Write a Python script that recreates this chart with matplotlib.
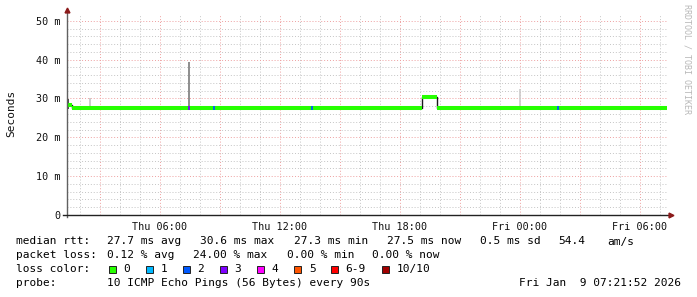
"""
SmokePing style latency graph (median rtt + smoke + loss colours) redrawn with matplotlib.
"""

import numpy as np
import matplotlib
matplotlib.use("Agg")
import matplotlib.pyplot as plt
import matplotlib.dates as mdates
from matplotlib.ticker import FuncFormatter, MultipleLocator

# ---- data -----------------------------------------------------------------
START = np.datetime64("2026-01-08T01:21:52")
BIN_MIN = 15  # one median value per 15 minutes, 30 hours

median_ms = [
    28.3, 27.5, 27.5, 27.5, 27.5, 27.55, 27.5, 27.5, 27.45, 27.5, 27.5, 27.55,
    27.5, 27.5, 27.5, 27.45, 27.5, 27.55, 27.5, 27.5, 27.5, 27.5, 27.45, 27.5,
    27.5, 27.55, 27.5, 27.5, 27.5, 27.5, 27.55, 27.5, 27.5, 27.45, 27.5, 27.5,
    27.5, 27.5, 27.55, 27.5, 27.5, 27.5, 27.5, 27.45, 27.5, 27.5, 27.5, 27.55,
    27.5, 27.5, 27.5, 27.5, 27.45, 27.5, 27.5, 27.5, 27.55, 27.5, 27.5, 27.5,
    27.5, 27.45, 27.5, 27.5, 27.5, 27.5, 27.55, 27.5, 27.5, 27.5, 27.5, 30.4,
    30.5, 30.4, 27.5, 27.5, 27.45, 27.5, 27.5, 27.5, 27.55, 27.5, 27.5, 27.5,
    27.5, 27.5, 27.45, 27.5, 27.5, 27.55, 27.5, 27.5, 27.5, 27.5, 27.5, 27.45,
    27.5, 27.5, 27.55, 27.5, 27.5, 27.5, 27.5, 27.45, 27.5, 27.5, 27.55, 27.5,
    27.5, 27.5, 27.5, 27.5, 27.45, 27.5, 27.5, 27.55, 27.5, 27.5, 27.5, 27.5,
]

# smoke spikes (hours after start, low / high in ms, shade)
smoke_hours = [0.05, 1.15, 6.1, 22.65]
smoke_low = [27.2, 27.6, 27.6, 27.6]
smoke_high = [29.8, 30.2, 39.4, 32.4]
smoke_shade = ["#2a2a2a", "#c4c4c4", "#7a7a7a", "#cccccc"]

# short loss marks on the median line (hours after start, lost pings)
loss_hours = [6.1, 7.35, 12.25, 24.55]
loss_counts = [3, 2, 2, 2]

loss_labels = ["0", "1", "2", "3", "4", "5", "6-9", "10/10"]
loss_colors = ["#26ff00", "#00b8ff", "#0059ff", "#7e00ff", "#ff00ff",
               "#ff5500", "#ff0000", "#a10000"]

rtt_items = ["27.7 ms avg", "30.6 ms max", "27.3 ms min", "27.5 ms now",
             "0.5 ms sd", "54.4", "am/s"]
loss_items = ["0.12 % avg", "24.00 % max", "0.00 % min", "0.00 % now"]
probe_text = "10 ICMP Echo Pings (56 Bytes) every 90s"
stamp_text = "Fri Jan  9 07:21:52 2026"

# ---- drawing ----------------------------------------------------------------
W, H = 697, 297
MONO = "DejaVu Sans Mono"
AXIS_C = "#606060"
ARROW_C = "#8b1a1a"


def px(x, y):
    """pixel (from top-left) -> figure fraction"""
    return x / W, 1 - y / H


fig = plt.figure(figsize=(W / 100, H / 100), dpi=100)
fig.patch.set_facecolor("white")
ax = fig.add_axes([67 / W, (H - 215) / H, 600 / W, 200 / H])

edges = START + np.arange(len(median_ms) + 1) * np.timedelta64(BIN_MIN, "m")
t = mdates.date2num(edges.astype("datetime64[s]").astype(object))
med = np.array(median_ms) / 1000.0


def hours_to_num(h):
    return t[0] + np.array(h) / 24.0


# smoke
ax.vlines(hours_to_num(smoke_hours), np.array(smoke_low) / 1000,
          np.array(smoke_high) / 1000, colors=smoke_shade, lw=1.2, zorder=3)

# dark step outline then coloured median segments
ax.step(t, np.append(med, med[-1]), where="post", color="#1a1a1a", lw=1.0, zorder=4)
ax.hlines(med, t[:-1], t[1:], colors=loss_colors[0], lw=2.9, zorder=5)

# loss marks
lh = hours_to_num(loss_hours)
for h, n in zip(lh, loss_counts):
    i = min(int((h - t[0]) * 24 * 60 / BIN_MIN), len(med) - 1)
    ax.vlines(h, med[i] - 0.0005, med[i] + 0.0005, colors=loss_colors[n],
              lw=1.3, zorder=6)

ax.set_xlim(t[0], t[-1])
ax.set_ylim(0, 0.0515)

# grid
ax.xaxis.set_major_locator(mdates.HourLocator(byhour=range(0, 24, 3)))
ax.xaxis.set_minor_locator(mdates.HourLocator())
ax.xaxis.set_major_formatter(FuncFormatter(
    lambda v, p: mdates.num2date(v).strftime("%a %H:%M")
    if mdates.num2date(v).hour % 6 == 0 else ""))
ax.yaxis.set_major_locator(MultipleLocator(0.010))
ax.yaxis.set_minor_locator(MultipleLocator(0.002))
ax.yaxis.set_major_formatter(FuncFormatter(
    lambda v, p: "0" if abs(v) < 1e-9 else f"{v * 1000:.0f} m"))

ax.grid(which="minor", color="#c4c4c4", lw=0.7, linestyle=(0, (1, 2)), zorder=0)
ax.grid(which="major", color="#eea0a0", lw=0.7, linestyle=(0, (1, 2)), zorder=1)
ax.set_axisbelow(True)

for s in ax.spines.values():
    s.set_visible(False)
ax.tick_params(which="both", length=0, labelsize=7.3, labelcolor="#111111", pad=5)
for lab in ax.get_xticklabels() + ax.get_yticklabels():
    lab.set_fontfamily(MONO)

# axes with arrow heads
fig.add_artist(plt.Line2D([67 / W, 67 / W], [px(0, 217)[1], px(0, 11)[1]],
                          color=AXIS_C, lw=1.0))
fig.add_artist(plt.Line2D([63 / W, 670 / W], [px(0, 215)[1]] * 2,
                          color="#222222", lw=1.0))
fig.add_artist(plt.Line2D([67 / W], [px(0, 10)[1]], marker="^", ms=3.5,
                          color=ARROW_C, mec=ARROW_C))
fig.add_artist(plt.Line2D([671 / W], [px(0, 215)[1]], marker=">", ms=3.5,
                          color=ARROW_C, mec=ARROW_C))

# axis title and watermark
fig.text(*px(11, 113), "Seconds", rotation=90, ha="center", va="center",
         fontsize=8, family=MONO, color="#111111")
fig.text(*px(687, 4), "RRDTOOL / TOBI OETIKER", rotation=270, ha="center",
         va="top", fontsize=6, family=MONO, color="#b8b8b8")

# legend block
FS = 8.0
rows_y = [241.5, 255.5, 269, 283]
fig.text(*px(16, rows_y[0]), "median rtt:", fontsize=FS, family=MONO, va="center")
for x, s in zip([107, 200.5, 293.5, 387, 480, 558.5, 607.5], rtt_items):
    fig.text(*px(x, rows_y[0]), s, fontsize=FS, family=MONO, va="center")

fig.text(*px(16, rows_y[1]), "packet loss:", fontsize=FS, family=MONO, va="center")
for x, s in zip([107, 193.3, 286.7, 372.5], loss_items):
    fig.text(*px(x, rows_y[1]), s, fontsize=FS, family=MONO, va="center")

fig.text(*px(16, rows_y[2]), "loss color:", fontsize=FS, family=MONO, va="center")
box_x = [108.5, 146, 183, 220, 257.3, 294.3, 331, 381.8]
for bx, lab, c in zip(box_x, loss_labels, loss_colors):
    x0, y0 = px(bx, rows_y[2] + 3.5)
    fig.add_artist(plt.Rectangle((x0, y0), 7 / W, 7 / H, facecolor=c,
                                 edgecolor="#222222", lw=0.7))
    fig.text(*px(bx + 14.5, rows_y[2]), lab, fontsize=FS, family=MONO, va="center")

fig.text(*px(16, rows_y[3]), "probe:", fontsize=FS, family=MONO, va="center")
fig.text(*px(107, rows_y[3]), probe_text, fontsize=FS, family=MONO, va="center")
fig.text(*px(681, rows_y[3]), stamp_text, fontsize=FS, family=MONO,
         va="center", ha="right")

fig.savefig("out.png", dpi=100, facecolor="white")
